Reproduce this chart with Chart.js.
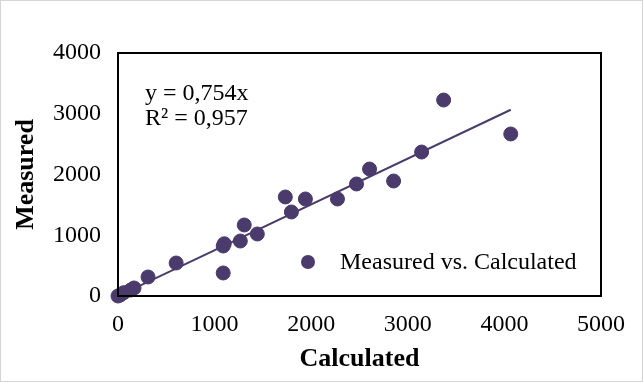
<!DOCTYPE html>
<html>
<head>
<meta charset="utf-8">
<script src="https://cdn.jsdelivr.net/npm/chart.js@4/dist/chart.umd.min.js"></script>
<style>
  html, body { margin: 0; padding: 0; background: #fff; }
  #wrap { position: relative; width: 641px; height: 380px; border: 1px solid #d4d4d4; }
  canvas { display: block; }
</style>
</head>
<body>
<div id="wrap"><canvas id="chart" width="641" height="380"></canvas></div>
<script>
// calculated vs measured values
const calculated = [0, 25, 60, 132, 166, 311, 602, 1089, 1100, 1089, 1266, 1307, 1442, 1732, 1795, 1940, 2272, 2469, 2604, 2853, 3143, 3371, 4066];
const measured   = [0, 18, 55, 99, 132, 313, 543, 823, 860, 379, 905, 1169, 1021, 1630, 1383, 1597, 1597, 1844, 2090, 1893, 2370, 3226, 2667];

const xTicks = [0, 1000, 2000, 3000, 4000, 5000];
const yTicks = [0, 1000, 2000, 3000, 4000];

const slope = 0.754;
const equationLines = ['y = 0,754x', 'R² = 0,957'];
const seriesName = 'Measured vs. Calculated';

const markerColor = '#4b3b6c';
const fontFamily = "'Liberation Serif', 'Times New Roman', serif";

const points = calculated.map((x, i) => ({ x: x, y: measured[i] }));
const xMax = Math.max(...calculated);
const trend = [{ x: 0, y: 0 }, { x: xMax, y: slope * xMax }];

// frame, equation and legend drawn over the plot
const overlay = {
    id: 'overlay',
    afterDraw(chart) {
        const ctx = chart.ctx;
        const a = chart.chartArea;
        ctx.save();
        ctx.strokeStyle = '#000';
        ctx.lineWidth = 2;
        ctx.strokeRect(a.left, a.top, a.right - a.left, a.bottom - a.top);

        ctx.fillStyle = '#000';
        ctx.font = '24px ' + fontFamily;
        ctx.textAlign = 'left';
        ctx.textBaseline = 'middle';
        ctx.fillText(equationLines[0], 144, 93);
        ctx.fillText(equationLines[1], 144, 118);

        ctx.fillStyle = markerColor;
        ctx.beginPath();
        ctx.arc(307, 261, 7, 0, Math.PI * 2);
        ctx.fill();
        ctx.fillStyle = '#000';
        ctx.fillText(seriesName, 339, 262);
        ctx.restore();
    }
};

new Chart(document.getElementById('chart'), {
    type: 'scatter',
    data: {
        datasets: [
            {
                label: seriesName,
                data: points,
                backgroundColor: markerColor,
                borderColor: markerColor,
                pointRadius: 7,
                pointHoverRadius: 7,
                clip: false,
                order: 1
            },
            {
                label: 'trend',
                type: 'line',
                data: trend,
                borderColor: markerColor,
                borderWidth: 2,
                pointRadius: 0,
                fill: false,
                order: 2
            }
        ]
    },
    options: {
        responsive: false,
        animation: false,
        layout: { padding: { left: 10, right: 41, top: 52, bottom: 6 } },
        plugins: {
            legend: { display: false },
            tooltip: { enabled: false }
        },
        scales: {
            x: {
                type: 'linear',
                min: 0,
                max: 5000,
                afterBuildTicks: scale => { scale.ticks = xTicks.map(v => ({ value: v })); },
                afterFit: scale => { scale.height = 380 - 6 - 295; },
                grid: { display: false, drawTicks: false },
                border: { display: false },
                ticks: {
                    color: '#000',
                    padding: 14,
                    font: { family: fontFamily, size: 24 },
                    callback: v => String(v)
                },
                title: {
                    display: true,
                    text: 'Calculated',
                    color: '#000',
                    padding: { top: 4, bottom: 0 },
                    font: { family: fontFamily, size: 26, weight: 'bold' }
                }
            },
            y: {
                type: 'linear',
                min: 0,
                max: 4000,
                afterBuildTicks: scale => { scale.ticks = yTicks.map(v => ({ value: v })); },
                afterFit: scale => { scale.width = 117 - 10; },
                grid: { display: false, drawTicks: false },
                border: { display: false },
                ticks: {
                    color: '#000',
                    padding: 17,
                    font: { family: fontFamily, size: 24 },
                    callback: v => String(v)
                },
                title: {
                    display: true,
                    text: 'Measured',
                    color: '#000',
                    padding: { top: 0, bottom: 0 },
                    font: { family: fontFamily, size: 26, weight: 'bold' }
                }
            }
        }
    },
    plugins: [overlay]
});
</script>
</body>
</html>
